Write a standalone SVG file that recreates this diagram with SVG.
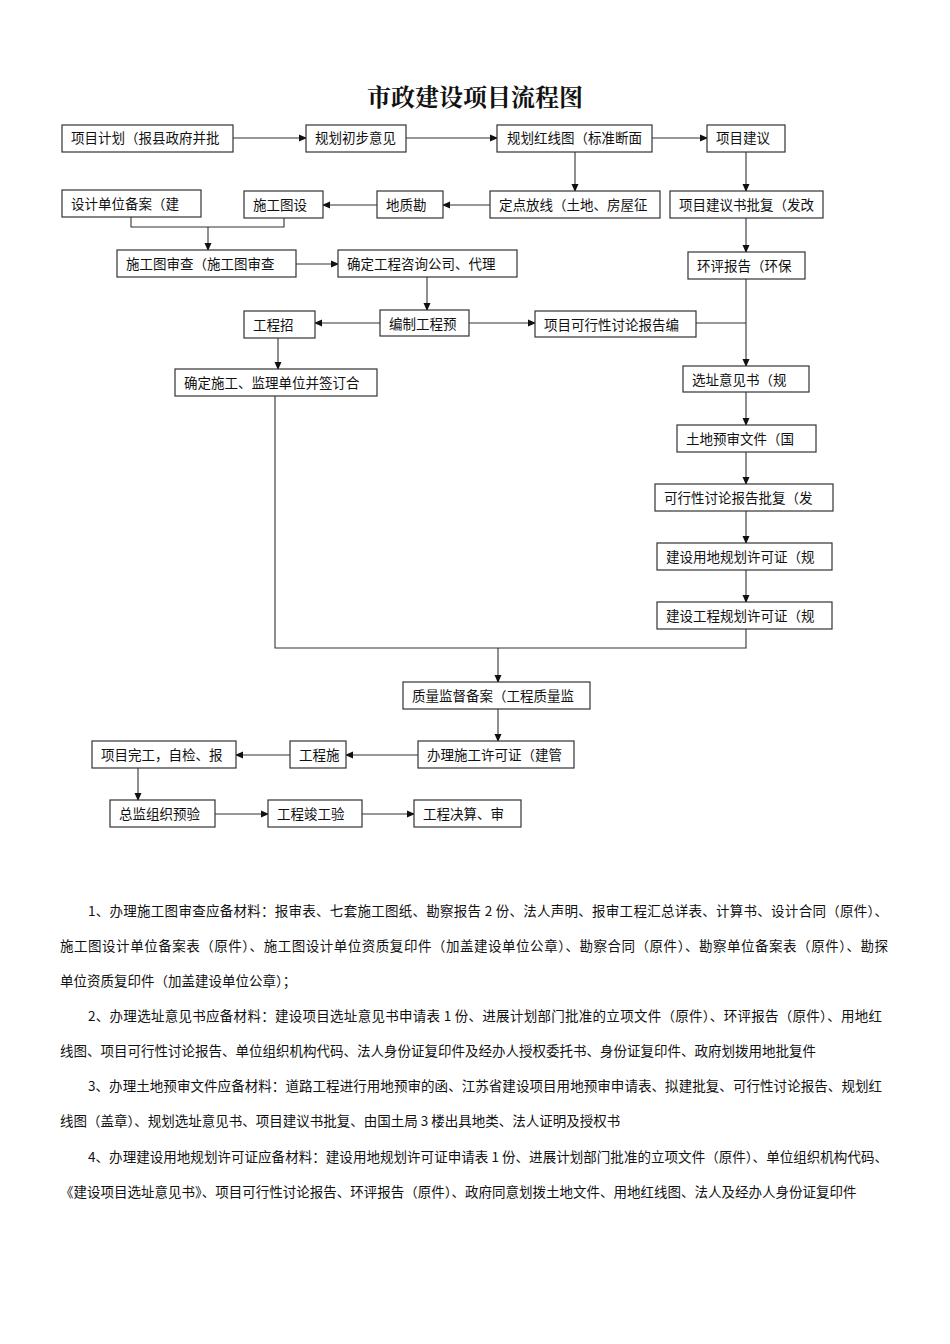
<svg xmlns="http://www.w3.org/2000/svg" width="950" height="1344" viewBox="0 0 950 1344">
<style>
.b rect{fill:#fff;stroke:#333;stroke-width:1.2}
.b text,.p{font-family:"Noto Sans CJK SC","Noto Sans",sans-serif;font-size:13.5px;fill:#111}
.c path{fill:none;stroke:#333;stroke-width:1.1}
.t{font-family:"Noto Serif CJK SC","Noto Sans CJK SC",serif;font-size:24px;font-weight:bold;fill:#111}
</style>
<defs><marker id="a" markerWidth="8" markerHeight="8" refX="7" refY="4" orient="auto" markerUnits="userSpaceOnUse"><path d="M0,0.5L8,4L0,7.5z" fill="#111"/></marker></defs>
<rect width="950" height="1344" fill="#fff"/>
<text class="t" x="475" y="106" text-anchor="middle">市政建设项目流程图</text>
<g class="c">
<path d="M233,138H306" marker-end="url(#a)"/>
<path d="M406,138H497" marker-end="url(#a)"/>
<path d="M652,138H707" marker-end="url(#a)"/>
<path d="M746,152V191" marker-end="url(#a)"/>
<path d="M575,152V191" marker-end="url(#a)"/>
<path d="M490,205H443" marker-end="url(#a)"/>
<path d="M377,205H323" marker-end="url(#a)"/>
<path d="M131,217V227H284V218"/>
<path d="M208,227V250" marker-end="url(#a)"/>
<path d="M296,264H338" marker-end="url(#a)"/>
<path d="M427,277V310" marker-end="url(#a)"/>
<path d="M380,323H315" marker-end="url(#a)"/>
<path d="M469,323H535" marker-end="url(#a)"/>
<path d="M746,218V252" marker-end="url(#a)"/>
<path d="M746,279V366" marker-end="url(#a)"/>
<path d="M696,323H746"/>
<path d="M278,338V369" marker-end="url(#a)"/>
<path d="M746,392V425" marker-end="url(#a)"/>
<path d="M746,452V484" marker-end="url(#a)"/>
<path d="M746,511V543" marker-end="url(#a)"/>
<path d="M746,570V602" marker-end="url(#a)"/>
<path d="M275,396V648H746V629"/>
<path d="M498,648V682" marker-end="url(#a)"/>
<path d="M498,709V741" marker-end="url(#a)"/>
<path d="M418,755H346" marker-end="url(#a)"/>
<path d="M290,755H236" marker-end="url(#a)"/>
<path d="M138,768V800" marker-end="url(#a)"/>
<path d="M215,814H268" marker-end="url(#a)"/>
<path d="M362,814H414" marker-end="url(#a)"/>
</g>
<g class="b">
<g id="A"><rect x="62" y="125" width="171" height="27"/><text x="71" y="143">项目计划（报县政府并批</text></g>
<g id="B"><rect x="306" y="125" width="100" height="27"/><text x="315" y="143">规划初步意见</text></g>
<g id="C"><rect x="497" y="125" width="155" height="27"/><text x="507" y="143">规划红线图（标准断面</text></g>
<g id="D"><rect x="707" y="125" width="78" height="27"/><text x="716" y="143">项目建议</text></g>
<g id="E"><rect x="62" y="190" width="139" height="27"/><text x="71" y="209">设计单位备案（建</text></g>
<g id="F"><rect x="244" y="191" width="79" height="27"/><text x="253" y="210">施工图设</text></g>
<g id="G"><rect x="377" y="191" width="66" height="27"/><text x="386" y="210">地质勘</text></g>
<g id="H"><rect x="490" y="191" width="170" height="27"/><text x="499" y="210">定点放线（土地、房屋征</text></g>
<g id="I"><rect x="670" y="191" width="153" height="27"/><text x="679" y="210">项目建议书批复（发改</text></g>
<g id="J"><rect x="117" y="250" width="179" height="27"/><text x="126" y="269">施工图审查（施工图审查</text></g>
<g id="K"><rect x="338" y="250" width="179" height="27"/><text x="347" y="269">确定工程咨询公司、代理</text></g>
<g id="L"><rect x="688" y="252" width="117" height="27"/><text x="697" y="271">环评报告（环保</text></g>
<g id="M"><rect x="244" y="311" width="71" height="27"/><text x="253" y="330">工程招</text></g>
<g id="N"><rect x="380" y="310" width="89" height="26"/><text x="389" y="329">编制工程预</text></g>
<g id="O"><rect x="535" y="311" width="161" height="26"/><text x="544" y="330">项目可行性讨论报告编</text></g>
<g id="P"><rect x="175" y="369" width="202" height="27"/><text x="184" y="388">确定施工、监理单位并签订合</text></g>
<g id="Q"><rect x="683" y="366" width="126" height="26"/><text x="692" y="385">选址意见书（规</text></g>
<g id="R"><rect x="677" y="425" width="139" height="27"/><text x="686" y="444">土地预审文件（国</text></g>
<g id="S"><rect x="655" y="484" width="178" height="27"/><text x="664" y="503">可行性讨论报告批复（发</text></g>
<g id="T"><rect x="657" y="543" width="175" height="27"/><text x="666" y="562">建设用地规划许可证（规</text></g>
<g id="U"><rect x="657" y="602" width="175" height="27"/><text x="666" y="621">建设工程规划许可证（规</text></g>
<g id="V"><rect x="403" y="682" width="187" height="27"/><text x="412" y="701">质量监督备案（工程质量监</text></g>
<g id="W"><rect x="418" y="741" width="156" height="27"/><text x="427" y="760">办理施工许可证（建管</text></g>
<g id="X"><rect x="290" y="741" width="56" height="27"/><text x="299" y="760">工程施</text></g>
<g id="Y"><rect x="92" y="741" width="144" height="27"/><text x="101" y="760">项目完工，自检、报</text></g>
<g id="Z"><rect x="110" y="800" width="105" height="27"/><text x="119" y="819">总监组织预验</text></g>
<g id="AA"><rect x="268" y="800" width="94" height="27"/><text x="277" y="819">工程竣工验</text></g>
<g id="AB"><rect x="414" y="800" width="107" height="27"/><text x="423" y="819">工程决算、审</text></g>
</g>
<g class="p">
<text x="88" y="916" textLength="800" lengthAdjust="spacing">1、办理施工图审查应备材料：报审表、七套施工图纸、勘察报告 2 份、法人声明、报审工程汇总详表、计算书、设计合同（原件）、</text>
<text x="60" y="951" textLength="828" lengthAdjust="spacing">施工图设计单位备案表（原件）、施工图设计单位资质复印件（加盖建设单位公章）、勘察合同（原件）、勘察单位备案表（原件）、勘探</text>
<text x="60" y="986">单位资质复印件（加盖建设单位公章）；</text>
<text x="88" y="1021" textLength="794" lengthAdjust="spacing">2、办理选址意见书应备材料：建设项目选址意见书申请表 1 份、进展计划部门批准的立项文件（原件）、环评报告（原件）、用地红</text>
<text x="60" y="1056">线图、项目可行性讨论报告、单位组织机构代码、法人身份证复印件及经办人授权委托书、身份证复印件、政府划拨用地批复件</text>
<text x="88" y="1091" textLength="794" lengthAdjust="spacing">3、办理土地预审文件应备材料：道路工程进行用地预审的函、江苏省建设项目用地预审申请表、拟建批复、可行性讨论报告、规划红</text>
<text x="60" y="1126">线图（盖章）、规划选址意见书、项目建议书批复、由国土局 3 楼出具地类、法人证明及授权书</text>
<text x="88" y="1162" textLength="800" lengthAdjust="spacing">4、办理建设用地规划许可证应备材料：建设用地规划许可证申请表 1 份、进展计划部门批准的立项文件（原件）、单位组织机构代码、</text>
<text x="60" y="1197">《建设项目选址意见书》、项目可行性讨论报告、环评报告（原件）、政府同意划拨土地文件、用地红线图、法人及经办人身份证复印件</text>
</g>
</svg>
